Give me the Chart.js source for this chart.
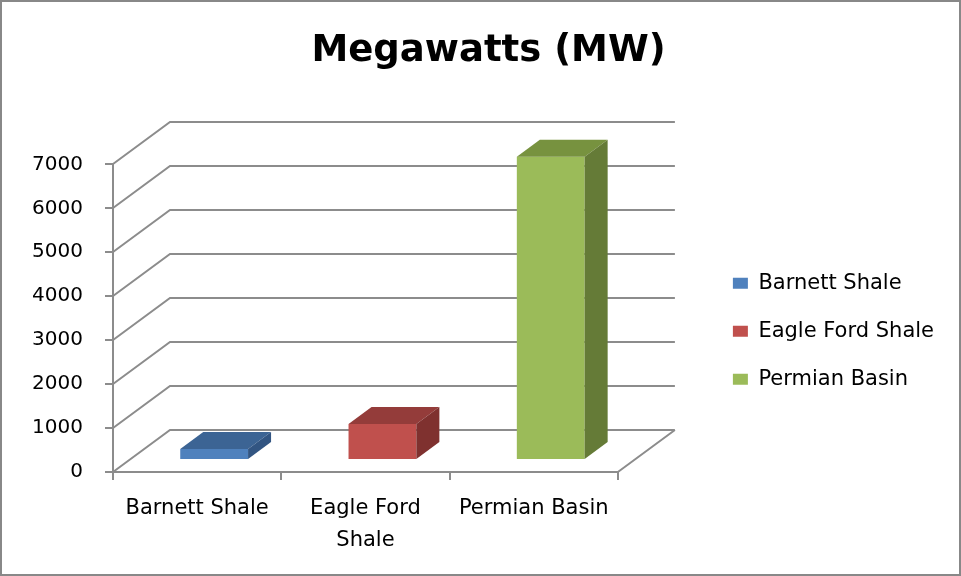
<!DOCTYPE html>
<html>
<head>
<meta charset="utf-8">
<title>Megawatts (MW)</title>
<script src="https://cdn.jsdelivr.net/npm/chart.js@4/dist/chart.umd.min.js"></script>
<style>
  html, body { margin: 0; padding: 0; background: #fff; }
  canvas { display: block; }
</style>
</head>
<body>
<canvas id="mw-chart" width="961" height="576"></canvas>
<script>
const categories = ['Barnett Shale', 'Eagle Ford Shale', 'Permian Basin'];
const xTickLabels = [['Barnett Shale'], ['Eagle Ford', 'Shale'], ['Permian Basin']];
const megawatts = [250, 820, 6900];
const yTickValues = [0, 1000, 2000, 3000, 4000, 5000, 6000, 7000];

const frontColors = ['#4f81bd', '#c0504d', '#9bbb59'];
const topColors = ['#3c6494', '#943c3a', '#77923f'];
const sideColors = ['#325582', '#7f312f', '#657b37'];

const gridColor = '#8c8c8c';
// fake 3d: depth of the walls, shift of the bars into the box, depth of the bars
const wallDx = 57, wallDy = -42;
const barShiftX = 17, barShiftY = -12;
const barDx = 23, barDy = -17;

const threeD = {
	id: 'threeD',
	beforeDatasetsDraw(chart) {
		const {ctx, chartArea: a, scales: {y}} = chart;
		ctx.save();
		ctx.strokeStyle = gridColor;
		ctx.lineWidth = 2;
		ctx.beginPath();
		yTickValues.forEach(v => {
			const py = Math.round(y.getPixelForValue(v));
			ctx.moveTo(a.left, py);
			ctx.lineTo(a.left + wallDx, py + wallDy);
			ctx.lineTo(a.right + wallDx, py + wallDy);
		});
		// right edge of the floor
		ctx.moveTo(a.right, a.bottom);
		ctx.lineTo(a.right + wallDx, a.bottom + wallDy);
		ctx.stroke();
		ctx.restore();
		// bars sit a bit inside the box
		ctx.save();
		ctx.translate(barShiftX, barShiftY);
	},
	afterDatasetsDraw(chart) {
		const ctx = chart.ctx;
		const bars = chart.getDatasetMeta(0).data;
		bars.forEach((bar, i) => {
			const l = bar.x - bar.width / 2;
			const r = bar.x + bar.width / 2;
			ctx.fillStyle = topColors[i];
			ctx.beginPath();
			ctx.moveTo(l, bar.y);
			ctx.lineTo(l + barDx, bar.y + barDy);
			ctx.lineTo(r + barDx, bar.y + barDy);
			ctx.lineTo(r, bar.y);
			ctx.closePath();
			ctx.fill();
			ctx.fillStyle = sideColors[i];
			ctx.beginPath();
			ctx.moveTo(r, bar.y);
			ctx.lineTo(r + barDx, bar.y + barDy);
			ctx.lineTo(r + barDx, bar.base + barDy);
			ctx.lineTo(r, bar.base);
			ctx.closePath();
			ctx.fill();
		});
		ctx.restore();
	},
	afterDraw(chart) {
		const ctx = chart.ctx;
		ctx.save();
		ctx.strokeStyle = '#888888';
		ctx.lineWidth = 2;
		ctx.strokeRect(1, 1, chart.width - 2, chart.height - 2);
		ctx.restore();
	}
};

Chart.defaults.font.family = '"DejaVu Sans", sans-serif';
Chart.defaults.color = '#000';

new Chart(document.getElementById('mw-chart'), {
	type: 'bar',
	data: {
		labels: categories,
		datasets: [{
			label: 'Megawatts (MW)',
			data: megawatts,
			backgroundColor: frontColors,
			borderWidth: 0,
			barPercentage: 0.403,
			categoryPercentage: 1.0
		}]
	},
	options: {
		responsive: false,
		animation: false,
		devicePixelRatio: 1,
		layout: { padding: { left: 33, right: 17, top: 0, bottom: 0 } },
		plugins: {
			title: {
				display: true,
				text: 'Megawatts (MW)',
				font: { size: 37, weight: 'bold' },
				padding: { top: 29, bottom: 91 }
			},
			legend: {
				position: 'right',
				fullSize: false,
				maxWidth: 300,
				title: { display: true, text: '', padding: 0, font: { size: 20, lineHeight: 1.3 } },
				labels: {
					boxWidth: 15,
					boxHeight: 11,
					padding: 27,
					font: { size: 21 },
					generateLabels: () => categories.map((c, i) => ({
						text: c,
						fillStyle: frontColors[i],
						strokeStyle: frontColors[i],
						lineWidth: 0,
						hidden: false,
						index: i
					}))
				}
			},
			tooltip: { enabled: false }
		},
		scales: {
			x: {
				grid: { drawOnChartArea: false, drawTicks: true, tickLength: 8, color: gridColor, lineWidth: 2 },
				border: { display: true, color: gridColor, width: 2 },
				ticks: {
					font: { size: 21, lineHeight: 1.55 },
					padding: 12,
					maxRotation: 0,
					autoSkip: false,
					callback: (v, i) => xTickLabels[i]
				},
				afterFit: s => { s.height = 104; }
			},
			y: {
				min: 0,
				max: 7000,
				afterBuildTicks: s => { s.ticks = yTickValues.map(v => ({ value: v })); },
				grid: { drawOnChartArea: false, drawTicks: true, tickLength: 8, color: gridColor, lineWidth: 2 },
				border: { display: true, color: gridColor, width: 2 },
				ticks: {
					font: { size: 20 },
					padding: 22,
					callback: v => String(v)
				},
				afterFit: s => { s.width = 80; }
			},
			depth: {
				// room for the back wall of the 3d box
				type: 'linear',
				position: 'right',
				display: true,
				grid: { display: false },
				border: { display: false },
				ticks: { display: false },
				afterFit: s => { s.width = 88; }
			}
		}
	},
	plugins: [threeD]
});
</script>
</body>
</html>
